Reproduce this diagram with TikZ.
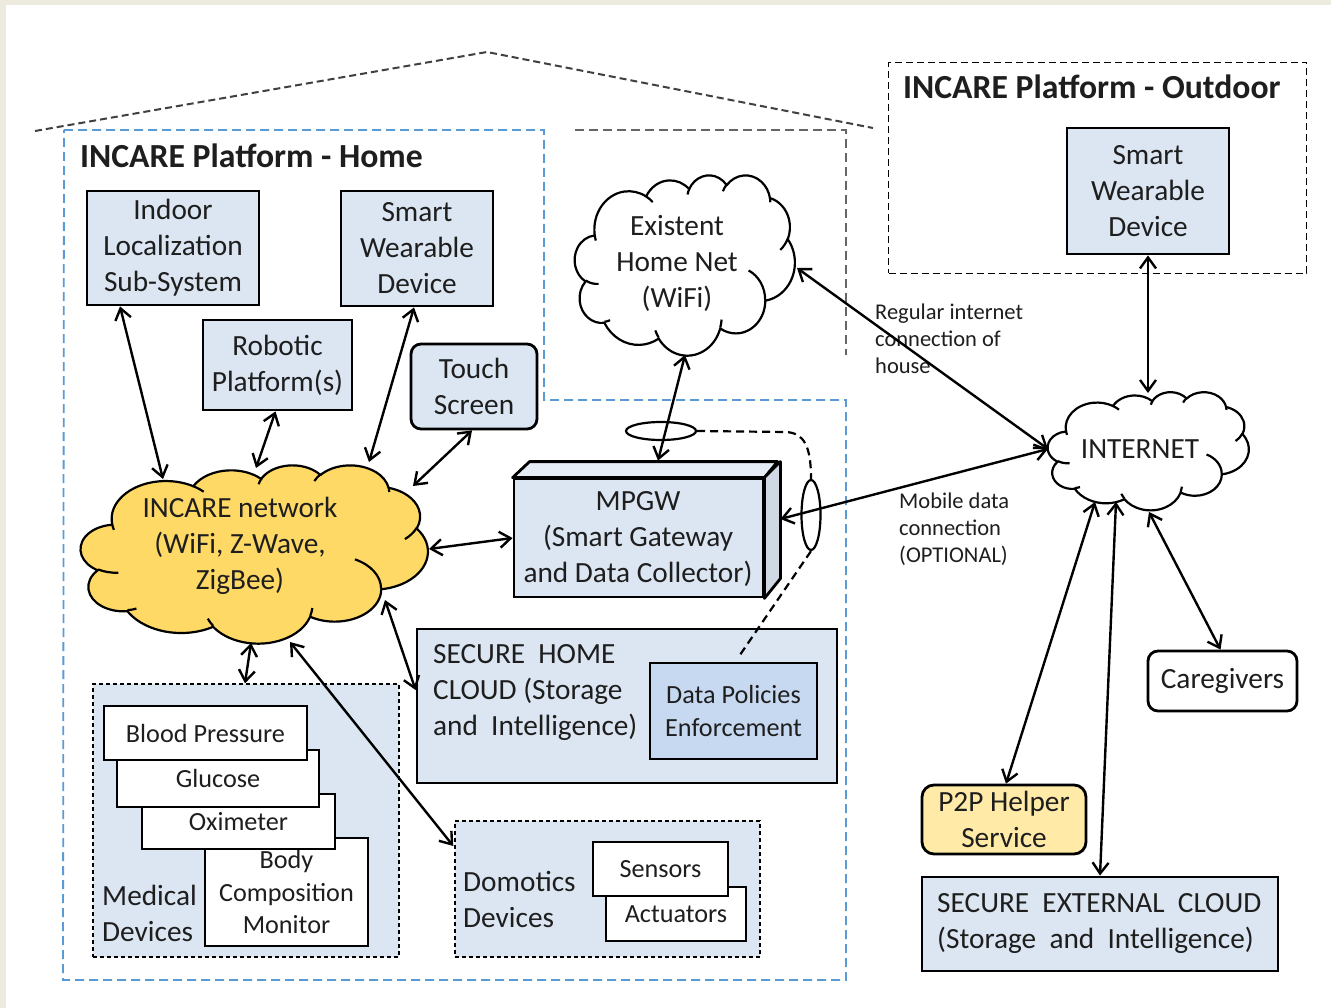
\documentclass[tikz,border=0pt]{standalone}
\usepackage{fontspec}
\setmainfont{Carlito}
\usetikzlibrary{shapes.geometric,arrows.meta,calc}

\definecolor{paper}{HTML}{EDEAE0}
\definecolor{boxblue}{HTML}{DCE6F2}
\definecolor{policyblue}{HTML}{C6D9F1}
\definecolor{netgold}{HTML}{FFD966}
\definecolor{helpergold}{HTML}{FFEAA8}
\definecolor{homeline}{HTML}{5B9BD5}
\definecolor{roofline}{HTML}{404040}
\definecolor{wallline}{HTML}{666666}
\definecolor{gwtop}{HTML}{E6ECF6}
\definecolor{gwside}{HTML}{CFD8E3}
\definecolor{ink}{HTML}{1E1E1E}

\newcommand\fsMain{\fontsize{29.3}{36}\selectfont}
\newcommand\fsSmall{\fontsize{26.2}{32.5}\selectfont}
\newcommand\fsNote{\fontsize{22.5}{27}\selectfont}
\newcommand\fsTitle{\bfseries\fontsize{33.7}{40}\selectfont}

% elliptic arc given by its true (not parametric) start angle and sweep
\tikzset{declare function={
  ptang(\a,\w,\h)=atan2(sin(\a)/\h, cos(\a)/\w);
  ptdel(\a,\s,\w,\h)=mod(ptang(\a+\s,\w,\h)-ptang(\a,\w,\h)+720,360);
}}
\newcommand\carc[4]{arc[start angle={ptang(#3,#1,#2)}, delta angle={ptdel(#3,#4,#1,#2)}, x radius=#1, y radius=#2]}

% puffy cloud in a 432 x 432 box, stretched onto the node #1
% #2 fill, #3 x factor (width/432), #4 y factor (height/432)
\newcommand\puffcloud[4]{%
  \begin{scope}[shift={(#1.north west)}, x=1pt, y=1pt, xscale=#3, yscale=-#4]
    \draw[cloudline, fill=#2] (39,143.7)
      \carc{67.53}{91.90}{-190.4875}{123.7805}
      \carc{53.33}{72.67}{-144.1024}{89.9452}
      \carc{43.65}{59.45}{-145.8079}{99.7230}
      \carc{48.57}{65.95}{-130.9861}{117.2417}
      \carc{53.33}{72.73}{-78.7089}{109.0269}
      \carc{67.75}{92.20}{-46.2673}{130.2690}
      \carc{57.85}{78.67}{0.6250}{114.0333}
      \carc{67.52}{92.15}{22.4516}{115.1726}
      \carc{77.20}{105.43}{66.2426}{75.7110}
      \carc{43.60}{59.18}{-274.9421}{146.7356}
      \carc{43.45}{59.45}{-246.8285}{152.5189} -- cycle;
    \draw[cloudline]
      (46.93,261.77) \carc{43.45}{59.45}{86.742}{26.4295}
      (69.28,348.99) \carc{43.60}{59.18}{73.6105}{11.4475}
      (164.78,390.90) \carc{67.52}{92.15}{137.6242}{14.0811}
      (288.27,347.51) \carc{67.52}{92.15}{6.4533}{15.9984}
      (341.29,229.54) \carc{57.85}{78.67}{-70.2924}{70.9174}
      (417.98,153.54) \carc{53.33}{72.73}{30.3180}{27.7515}
      (383.24,54.26) \carc{48.57}{65.95}{-13.7443}{14.8589}
      (290.78,39.52) \carc{48.57}{65.95}{-149.1815}{18.1954}
      (221.41,47.20) \carc{43.65}{59.45}{-163.4943}{17.6864}
      (140.00,51.92) \carc{67.53}{91.90}{-66.7070}{12.3194}
      (41.27,157.89) \carc{67.53}{91.90}{157.6544}{11.8582};
  \end{scope}}

\tikzset{
  box/.style={draw, line width=2.8pt, fill=boxblue, inner sep=0pt, align=center,
              font=\fsMain, text=ink},
  whitebox/.style={box, fill=white, font=\fsSmall},
  group/.style={draw, line width=1.4pt, dash pattern=on 4pt off 3pt, fill=boxblue, inner sep=0pt},
  cloudline/.style={line width=2.2pt, line join=round},
  cloudholder/.style={inner sep=0pt},
  label/.style={inner sep=0pt, align=center, font=\fsMain, text=ink},
  note/.style={inner sep=0pt, align=left, anchor=west, font=\fsNote, text=ink},
  conn/.style={line width=2.4pt,
              {Straight Barb[length=11pt,width=16pt]}-{Straight Barb[length=11pt,width=16pt]}},
  ring/.style={draw, ellipse, line width=2.2pt, inner sep=0pt},
  policy/.style={line width=2.2pt, dash pattern=on 8pt off 5pt},
}

\begin{document}
\begin{tikzpicture}[x=1pt,y=-1pt]
% page and its tinted rim
\fill[white] (0,0) rectangle (1331,1008);
\fill[paper] (0,0) rectangle (1331,5);
\fill[paper] (0,0) rectangle (6,1008);
\useasboundingbox (0,0) rectangle (1331,1008);

% house outline
\draw[roofline, line width=2pt, dash pattern=on 7pt off 4pt] (35,131) -- (487,52) -- (873,128);
\draw[wallline, line width=2pt, dash pattern=on 9pt off 5pt] (575,130) -- (846,130) -- (846,355);
\draw[homeline, line width=1.8pt, dash pattern=on 9pt off 5pt]
  (64,130) -- (544,130) -- (544,400) -- (846,400) -- (846,980) -- (63,980) -- cycle;

% home platform
\node[inner sep=0pt, anchor=west, font=\fsTitle, text=ink] (hometitle) at (80,156) {INCARE Platform - Home};

\node[box, minimum width=172, minimum height=114] (ind) at (173,248)
  {Indoor\\Localization\\Sub-System};
\node[box, minimum width=152, minimum height=115] (swd) at (417,248.5)
  {Smart\\Wearable\\Device};
\node[box, minimum width=149, minimum height=90] (rob) at (277.5,365)
  {Robotic\\Platform(s)};
\node[box, rounded corners=10pt, minimum width=126, minimum height=85] (touch) at (474,386.5)
  {Touch\\Screen};

\node[cloudholder, minimum width=220, minimum height=180] (homenet) at (685,265) {};
\puffcloud{homenet}{white}{0.50926}{0.41667}
\node[label] (homenetT) at (677,263) {Existent\\Home Net\\(WiFi)};

\node[cloudholder, minimum width=347, minimum height=178] (incnet) at (254.5,554) {};
\puffcloud{incnet}{netgold}{0.80324}{0.41204}
\node[label] (incnetT) at (240,546) {INCARE network\\(WiFi, Z-Wave,\\ZigBee)};

% gateway drawn as a box with depth
\node[box, minimum width=249, minimum height=118] (mpgw) at (638.5,538) {};
\draw[line width=2.8pt, line join=round, fill=gwtop]
  (mpgw.north west) -- ++(17,-16) -- ++(248,0) -- (mpgw.north east) -- cycle;
\draw[line width=2.8pt, line join=round, fill=gwside]
  (mpgw.north east) -- ++(16,-16) -- ++(0,117) -- (mpgw.south east) -- cycle;
\node[label] (mpgwT) at (638,539) {MPGW\\(Smart Gateway\\and Data Collector)};

\node[box, minimum width=420, minimum height=154] (shc) at (627,706) {};
\node[label, align=left, anchor=west] (shcT) at (433,693)
  {SECURE\ \ HOME\\CLOUD (Storage\\and\ \ Intelligence)};
\node[box, fill=policyblue, font=\fsSmall, minimum width=167, minimum height=96] (dpe) at (733.5,711)
  {Data Policies\\Enforcement};

% medical devices
\node[group, minimum width=306, minimum height=273] (med) at (246,820.5) {};
\node[whitebox, minimum width=163, minimum height=108] (body) at (286.5,892) {Body\\Composition\\Monitor};
\node[whitebox, minimum width=193, minimum height=55] (oxi) at (238.5,821.5) {Oximeter};
\node[whitebox, minimum width=202, minimum height=57] (glu) at (218,778.5) {Glucose};
\node[whitebox, minimum width=203, minimum height=54] (bp) at (205.5,733) {Blood Pressure};
\node[label, align=left, anchor=west] (medT) at (102,913) {Medical\\Devices};

% domotics
\node[group, minimum width=305, minimum height=136] (dom) at (607.5,889) {};
\node[whitebox, minimum width=140, minimum height=54] (act) at (676,914) {Actuators};
\node[whitebox, minimum width=135, minimum height=54] (sen) at (660.5,869) {Sensors};
\node[label, align=left, anchor=west] (domT) at (463,899) {Domotics\\Devices};

% outdoor platform
\node[draw, line width=1.4pt, dash pattern=on 7pt off 4pt, minimum width=418, minimum height=211, inner sep=0pt] (outdoor) at (1097.5,168) {};
\node[inner sep=0pt, anchor=west, font=\fsTitle, text=ink] (outdoorT) at (903,87) {INCARE Platform - Outdoor};
\node[box, minimum width=162, minimum height=126] (oswd) at (1148,191) {Smart\\Wearable\\Device};

% internet side
\node[cloudholder, minimum width=201, minimum height=118] (inet) at (1148.5,451) {};
\puffcloud{inet}{white}{0.46528}{0.27315}
\node[label] (inetT) at (1140,449) {INTERNET};

\node[box, fill=white, rounded corners=10pt, minimum width=149, minimum height=60] (care) at (1222.5,681) {Caregivers};
\node[box, fill=helpergold, rounded corners=12pt, minimum width=164, minimum height=69] (p2p) at (1004,819.5) {P2P Helper\\Service};
\node[box, minimum width=356, minimum height=94] (ext) at (1100,924) {};
\node[label, align=left, anchor=west] (extT) at (937,924)
  {SECURE\ \ EXTERNAL\ \ CLOUD\\(Storage\ \ and\ \ Intelligence)};

\node[note] (regT) at (875,339) {Regular internet\\connection of\\house};
\node[note] (mobT) at (899,529) {Mobile data\\connection\\(OPTIONAL)};

% data policy rings on the gateway links
\node[ring, minimum width=70, minimum height=18] (ringA) at (661,431) {};
\node[ring, minimum width=19, minimum height=70] (ringB) at (811,515) {};
\draw[policy] (ringA.east) -- (786,432) .. controls (804,433) and (811,446) .. (ringB.north);
\draw[policy] (ringB.south) -- ($(dpe.north)+(6,-6)$);

% links inside the home
\draw[conn] ($(ind.south)+(-53,0)$) -- ($(incnet.center)+(-91.5,-75)$);
\draw[conn] ($(rob.south)+(-2,0)$) -- ($(incnet.center)+(1.5,-86)$);
\draw[conn] ($(swd.south)+(-3,0)$) -- ($(incnet.center)+(114.5,-92)$);
\draw[conn] ($(touch.south)+(-2,0)$) -- ($(incnet.center)+(158.5,-68)$);
\draw[conn] ($(incnet.center)+(174.5,-5)$) -- (mpgw.west);
\draw[conn] ($(incnet.center)+(130.5,46)$) -- ($(shc.west)+(0,-16)$);
\draw[conn] ($(incnet.center)+(-3.5,89)$) -- ($(med.north)+(-1,0)$);
\draw[conn] ($(incnet.center)+(35.5,88)$) -- ($(dom.west)+(-1,-43)$);
\draw[conn] ($(homenet.center)+(0,90)$) -- ($(mpgw.north)+(19.5,-17)$);

% links to the internet
\draw[conn] ($(homenet.center)+(112,3)$) -- ($(inet.center)+(-100.5,-2)$);
\draw[conn] ($(mpgw.east)+(16,-19)$) -- ($(inet.center)+(-100.5,-2)$);
\draw[conn] (oswd.south) -- ($(inet.center)+(-0.5,-58)$);
\draw[conn] ($(inet.center)+(-53.5,51)$) -- ($(p2p.north)+(2,0)$);
\draw[conn] ($(inet.center)+(-32.5,51)$) -- (ext.north);
\draw[conn] ($(inet.center)+(0.5,61)$) -- ($(care.north)+(-2,0)$);
\end{tikzpicture}
\end{document}
